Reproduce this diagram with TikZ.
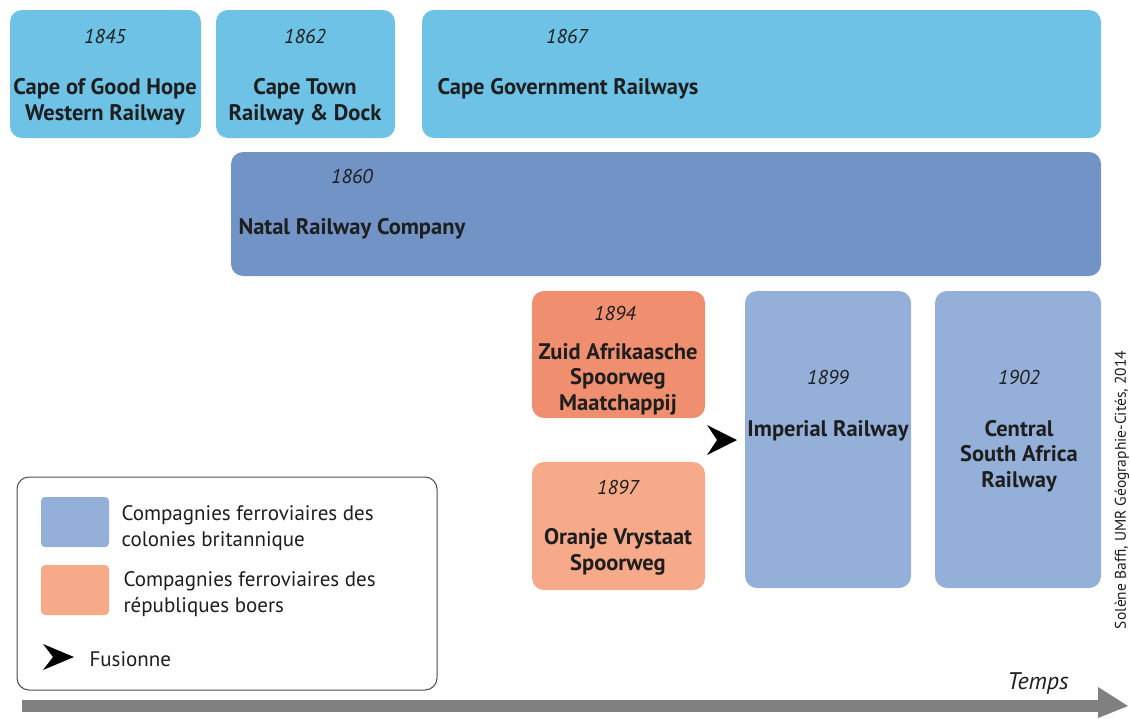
\documentclass[tikz,border=0pt]{standalone}
\usepackage{fontspec}
\setmainfont{PT Sans}
\usetikzlibrary{arrows.meta}
\definecolor{capeblue}{HTML}{6EC2E6}
\definecolor{natalblue}{HTML}{7193C6}
\definecolor{britblue}{HTML}{94B0D9}
\definecolor{zasm}{HTML}{F08E70}
\definecolor{ovs}{HTML}{F6AA8A}
\definecolor{txt}{HTML}{1E1E1E}
\definecolor{axisgray}{HTML}{808080}
\tikzset{
  railbox/.style={rounded corners=12pt, draw=none},
  yeartxt/.style={font=\fontsize{20}{22}\selectfont\itshape, text=txt},
  cotxt/.style={font=\fontsize{22.5}{25.5}\selectfont\bfseries, text=txt, align=center},
  lcotxt/.style={font=\fontsize{22.5}{25.5}\selectfont\bfseries, text=txt, anchor=west},
  legtxt/.style={font=\fontsize{21}{26}\selectfont, text=txt, anchor=west, align=left},
  fusionfill/.style={fill=black}
}
\begin{document}
\begin{tikzpicture}[x=1pt,y=-1pt]
\useasboundingbox (0,0) rectangle (1130,718);
% top row
\fill[railbox,capeblue] (10,10) rectangle (201,138);
\node[yeartxt] (y1845) at (105,36) {1845};
\node[cotxt] (cgh) at (105,102) {Cape of Good Hope\\Western Railway};
\fill[railbox,capeblue] (216,10) rectangle (395,138);
\node[yeartxt] (y1862) at (305,36) {1862};
\node[cotxt] (ctr) at (305,102) {Cape Town\\Railway \& Dock};
\fill[railbox,capeblue] (422,10) rectangle (1101,138);
\node[yeartxt] (y1867) at (567,36) {1867};
\node[lcotxt] (cgr) at (434,89) {Cape Government Railways};
% natal
\fill[railbox,natalblue] (231,152) rectangle (1101,276);
\node[yeartxt] (y1860) at (352,176) {1860};
\node[lcotxt] (nrc) at (235,229) {Natal Railway Company};
% boer
\fill[railbox,zasm] (532,291) rectangle (705,418);
\node[yeartxt] (y1894) at (615,313) {1894};
\node[cotxt] (zasmt) at (618,379) {Zuid Afrikaasche\\Spoorweg\\Maatchappij};
\fill[railbox,ovs] (532,462) rectangle (705,590);
\node[yeartxt] (y1897) at (618,487) {1897};
\node[cotxt] (ovst) at (618,552) {Oranje Vrystaat\\Spoorweg};
% british
\fill[railbox,britblue] (745,291) rectangle (911,588);
\node[yeartxt] (y1899) at (828,377) {1899};
\node[cotxt] (imp) at (828,431) {Imperial Railway};
\fill[railbox,britblue] (935,291) rectangle (1101,588);
\node[yeartxt] (y1902) at (1019,377) {1902};
\node[cotxt] (csar) at (1019,456) {Central\\South Africa\\Railway};
% fusion arrow
\fill[fusionfill] (707,425) -- (737,440) -- (707,455) -- (717,440) -- cycle;
% legend
\draw[rounded corners=12pt, draw=black!70, line width=1pt, fill=white] (17,477) rectangle (437,690);
\fill[rounded corners=4pt, britblue] (41,497) rectangle (109,547);
\node[legtxt] (l1) at (118,528) {Compagnies ferroviaires des\\colonies britannique};
\fill[rounded corners=4pt, ovs] (41,565) rectangle (109,615);
\node[legtxt] (l2) at (120,594) {Compagnies ferroviaires des\\républiques boers};
\fill[fusionfill] (43,644) -- (74,657) -- (43,670) -- (53,657) -- cycle;
\node[legtxt] (l3) at (86,659) {Fusionne};
% time axis
\fill[axisgray] (22,700) rectangle (1100,712);
\fill[axisgray] (1098,687) -- (1128,706) -- (1098,718) -- cycle;
\node[font=\fontsize{24}{26}\selectfont\itshape, text=txt] (temps) at (1038,683) {Temps};
% credit
\node[rotate=90, font=\fontsize{15.5}{17}\selectfont, text=txt, inner sep=1pt] (credit) at (1122,490) {Solène Baffi, UMR Géographie-Cités, 2014};
\end{tikzpicture}
\end{document}
